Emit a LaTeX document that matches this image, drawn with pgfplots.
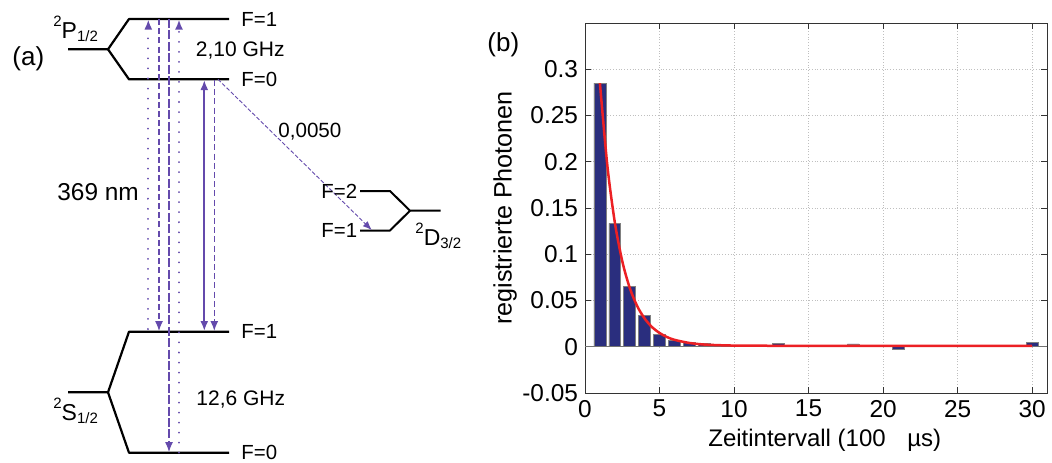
\documentclass[border=0pt]{standalone}
\usepackage{fontspec}
\setmainfont{Liberation Sans}
\usepackage{pgfplots}
\pgfplotsset{compat=1.18}
\usetikzlibrary{arrows.meta}
\definecolor{purp}{RGB}{100,74,172}
\definecolor{navy}{RGB}{42,46,126}
\definecolor{fitred}{RGB}{236,32,36}
\newcommand\fs[1]{\fontsize{#1}{#1}\selectfont}
\newcommand\term[3]{\raisebox{6pt}{\fs{7.5}#1}#2\raisebox{-1.8pt}{\fs{7.5}#3}}
\begin{document}
\begin{tikzpicture}
\useasboundingbox (0,0) rectangle (526pt,231pt);
% ---------------- (a) level scheme ----------------
\begin{axis}[at={(112.5pt,115.5pt)}, anchor=center, width=225pt, height=231pt,
  scale only axis, xmin=0, xmax=450, ymin=0, ymax=462, y dir=reverse,
  hide axis, clip=false]
% levels
\addplot[black, line width=1.1pt, line join=round] coordinates {(68,49.3) (108,49.3) (129,19) (229,19)};
\addplot[black, line width=1.1pt, line join=round] coordinates {(108,49.3) (129,79.3) (229,79.3)};
\addplot[black, line width=1.1pt, line join=round] coordinates {(68,392.3) (108,392.3) (129,331.7) (229,331.7)};
\addplot[black, line width=1.1pt, line join=round] coordinates {(108,392.3) (129,452.7) (229,452.7)};
\addplot[black, line width=1pt, line join=round] coordinates {(360,191) (390,191) (410,210.7) (440.7,210.7)};
\addplot[black, line width=1pt, line join=round] coordinates {(360,230.5) (390,230.5) (410,210.7)};
% transitions
\addplot[purp, line width=1pt, line cap=round, dash pattern=on 0.01pt off 5pt, -{Latex[length=5pt,width=4pt]}] coordinates {(148.3,329) (148.3,19.5)};
\addplot[purp, line width=0.6pt, dash pattern=on 3pt off 1.6pt, -{Latex[length=5pt,width=4pt]}] coordinates {(159,19) (159,331)};
\addplot[purp, line width=0.6pt, dash pattern=on 4.5pt off 1.2pt, -{Latex[length=5pt,width=4pt]}] coordinates {(169,19) (169,452)};
\addplot[purp, line width=1pt, line cap=round, dash pattern=on 0.01pt off 5pt, -{Latex[length=5pt,width=4pt]}] coordinates {(179,452.7) (179,19.5)};
\addplot[purp, line width=1pt, {Latex[length=5pt,width=4pt]}-{Latex[length=5pt,width=4pt]}] coordinates {(204.3,80) (204.3,331)};
\addplot[purp, line width=0.7pt, dash pattern=on 3pt off 1.6pt, -{Latex[length=5pt,width=4pt]}] coordinates {(214.3,80) (214.3,331)};
\addplot[purp, line width=0.45pt, dash pattern=on 2pt off 1pt, -{Latex[length=4.5pt,width=3.5pt]}] coordinates {(218,79.3) (371.7,230)};
% labels
\node[anchor=base west, inner sep=0, font=\fs{13}] at (axis cs:12,65) {(a)};
\node[anchor=base west, inner sep=0, font=\fs{13}] at (axis cs:487,51.7) {(b)};
\node[anchor=base west, inner sep=0, font=\fs{11.5}] at (axis cs:53,38) {\term{2}{P}{1/2}};
\node[anchor=base west, inner sep=0, font=\fs{11.5}] at (axis cs:53,420) {\term{2}{S}{1/2}};
\node[anchor=base west, inner sep=0, font=\fs{11.5}] at (axis cs:415,245) {\term{2}{D}{3/2}};
\node[anchor=west, inner sep=0, font=\fs{10.2}] at (axis cs:241,19) {F=1};
\node[anchor=west, inner sep=0, font=\fs{10.2}] at (axis cs:241,79.3) {F=0};
\node[anchor=west, inner sep=0, font=\fs{10.2}] at (axis cs:241,331.7) {F=1};
\node[anchor=west, inner sep=0, font=\fs{10.2}] at (axis cs:241,452.7) {F=0};
\node[anchor=east, inner sep=0, font=\fs{10.2}] at (axis cs:357.5,191) {F=2};
\node[anchor=east, inner sep=0, font=\fs{10.2}] at (axis cs:357.5,230.5) {F=1};
\node[anchor=base west, inner sep=0, font=\fs{10.5}] at (axis cs:195.5,56.7) {2,10 GHz};
\node[anchor=base west, inner sep=0, font=\fs{10.5}] at (axis cs:196,405) {12,6 GHz};
\node[anchor=base west, inner sep=0, font=\fs{12.2}] at (axis cs:57,200) {369 nm};
\node[anchor=base west, inner sep=0, font=\fs{10.3}] at (axis cs:278,137.7) {0,0050};
\end{axis}
% ---------------- (b) histogram ----------------
\begin{axis}[at={(408pt,127pt)}, anchor=center, width=231pt, height=185pt,
  scale only axis, xmin=0, xmax=31, ymin=-0.05, ymax=0.35,
  xtick={0,5,10,15,20,25,30}, xticklabels={0,5,10,15,20,25,30},
  ytick={-0.05,0,0.05,0.1,0.15,0.2,0.25,0.3},
  yticklabels={-0.05,0,0.05,0.1,0.15,0.2,0.25,0.3},
  grid=major, major grid style={densely dotted, black!25, line width=0.4pt},
  tick align=inside, major tick length=3pt, tick style={black!80, line width=0.4pt},
  axis line style={black!80, line width=0.5pt},
  tick label style={font=\fs{12.2}},
  xlabel={Zeitintervall (100\hspace{0.9em}µs)}, ylabel={registrierte Photonen},
  xlabel style={font=\fs{12}, at={(axis description cs:0.519,-0.127)}, anchor=center},
  ylabel style={font=\fs{12.6}, at={(axis description cs:-0.173,0.5)}, anchor=center}]
\addplot[ybar, bar width=0.8, fill=navy, draw=black!50, line width=0.3pt] coordinates {
(1,0.285) (2,0.1335) (3,0.0655) (4,0.034) (5,0.0133) (6,0.0072) (7,0.005) (8,0.0033)
(9,0.0025) (10,0.0018) (11,0.001) (12,0.0008) (13,0.0036) (14,0.0008) (15,0.0006)
(16,0.0005) (17,0.0006) (18,0.003) (19,0.0005) (20,0.0004) (21,-0.003) (22,0.0004)
(23,0.0004) (24,0.0003) (25,0.0004) (26,0.0003) (27,0.0004) (28,0.0003) (29,0.0004) (30,0.0045)};
\addplot[black!55, line width=0.6pt] coordinates {(0,0) (31,0)};
\addplot[fitred, line width=1.25pt, smooth] coordinates {
(1,0.285) (1.5,0.1957) (2,0.1345) (2.5,0.0925) (3,0.0637) (3.5,0.044) (4,0.0305)
(4.5,0.0212) (5,0.0149) (5.5,0.0105) (6,0.0075) (7,0.0041) (8,0.0024) (9,0.0017)
(10,0.0013) (12,0.0011) (16,0.001) (30,0.001)};
\end{axis}
\end{tikzpicture}
\end{document}
